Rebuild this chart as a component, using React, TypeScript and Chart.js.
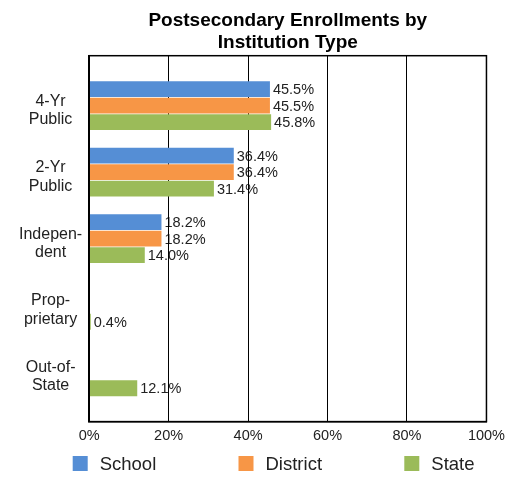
import React, { useEffect, useRef } from "react";
import { Chart, registerables } from "chart.js";

Chart.register(...registerables);

const categories: string[][] = [
  ["4-Yr", "Public"],
  ["2-Yr", "Public"],
  ["Indepen-", "dent"],
  ["Prop-", "prietary"],
  ["Out-of-", "State"],
];
const seriesNames = ["School", "District", "State"];
const schoolValues: (number | null)[] = [45.5, 36.4, 18.2, null, null];
const districtValues: (number | null)[] = [45.5, 36.4, 18.2, null, null];
const stateValues: (number | null)[] = [45.8, 31.4, 14.0, 0.4, 12.1];
const xTickValues = [0, 20, 40, 60, 80, 100];
const titleLines = ["Postsecondary Enrollments by", "Institution Type"];

const FONT = "'Liberation Sans', Arial, Helvetica, sans-serif";
const TEXT = "#222222";

const valueLabelPlugin = {
  id: "valueLabels",
  beforeDraw(chart: any) {
    const ctx = chart.ctx;
    ctx.save();
    ctx.font = `14.5px ${FONT}`;
    ctx.fillStyle = TEXT;
    ctx.textAlign = "left";
    ctx.textBaseline = "middle";
    chart.data.datasets.forEach((ds: any, di: number) => {
      const meta = chart.getDatasetMeta(di);
      meta.data.forEach((el: any, i: number) => {
        const v = ds.data[i];
        if (v === null || v === undefined) return;
        ctx.fillText(`${v.toFixed(1)}%`, el.x + 3, el.y + 1);
      });
    });
    ctx.restore();
  },
};

const framePlugin = {
  id: "frame",
  afterDatasetsDraw(chart: any) {
    const { left, top, right, bottom } = chart.chartArea;
    const ctx = chart.ctx;
    ctx.save();
    ctx.strokeStyle = "#000";
    ctx.lineWidth = 1.5;
    ctx.strokeRect(left, top, right - left, bottom - top);
    ctx.restore();
  },
};

const legendPlugin = {
  id: "customLegend",
  afterDraw(chart: any) {
    const ctx = chart.ctx;
    const h = chart.height;
    ctx.save();
    ctx.font = `18.5px ${FONT}`;
    ctx.textBaseline = "middle";
    ctx.textAlign = "left";
    chart.data.datasets.forEach((ds: any, i: number) => {
      const x = 64.7 + i * 165.8;
      const y = h - 15;
      ctx.fillStyle = ds.backgroundColor;
      ctx.fillRect(x, y, 15, 15);
      ctx.fillStyle = TEXT;
      ctx.fillText(ds.label, x + 27, y + 9);
    });
    ctx.restore();
  },
};

export default function App() {
  const ref = useRef<HTMLCanvasElement | null>(null);
  useEffect(() => {
    if (!ref.current) return;
    const chart = new Chart(ref.current, {
      type: "bar",
      data: {
        labels: categories,
        datasets: [
          { label: seriesNames[0], data: schoolValues, backgroundColor: "#558ED5" },
          { label: seriesNames[1], data: districtValues, backgroundColor: "#F79646" },
          { label: seriesNames[2], data: stateValues, backgroundColor: "#9BBB59" },
        ],
      },
      options: {
        indexAxis: "y",
        animation: false,
        responsive: true,
        maintainAspectRatio: false,
        datasets: { bar: { categoryPercentage: 0.745, barPercentage: 0.96 } },
        layout: { padding: { left: 4, right: 19, top: 0, bottom: 20 } },
        scales: {
          x: {
            min: 0,
            max: 100,
            afterBuildTicks: (s: any) => {
              s.ticks = xTickValues.map((v) => ({ value: v }));
            },
            grid: { color: "#000", lineWidth: 1, drawTicks: false },
            border: { display: true, color: "#000", width: 1.5 },
            ticks: {
              padding: 6,
              color: TEXT,
              font: { family: FONT, size: 14.5 },
              callback: (v: any) => `${v}%`,
            },
          },
          y: {
            afterBuildTicks: (s: any) => {
              s._valueRange = 5.5;
              s._startValue = -0.75;
            },
            grid: { display: false, drawTicks: false },
            border: { display: true, color: "#000", width: 1.5 },
            ticks: {
              padding: 7,
              labelOffset: 5,
              crossAlign: "center",
              color: TEXT,
              font: { family: FONT, size: 16, lineHeight: 1.15 },
            },
          },
        },
        plugins: {
          legend: { display: false },
          tooltip: { enabled: false },
          title: {
            display: true,
            text: titleLines,
            fullSize: false,
            color: "#000",
            font: { family: FONT, size: 19, weight: "bold", lineHeight: 1.15 },
            padding: { top: 2, bottom: 2 },
          },
        },
      },
      plugins: [valueLabelPlugin, framePlugin, legendPlugin],
    });
    return () => chart.destroy();
  }, []);
  return (
    <div style={{ width: 503, height: 463, position: "relative" }}>
      <canvas ref={ref} />
    </div>
  );
}
